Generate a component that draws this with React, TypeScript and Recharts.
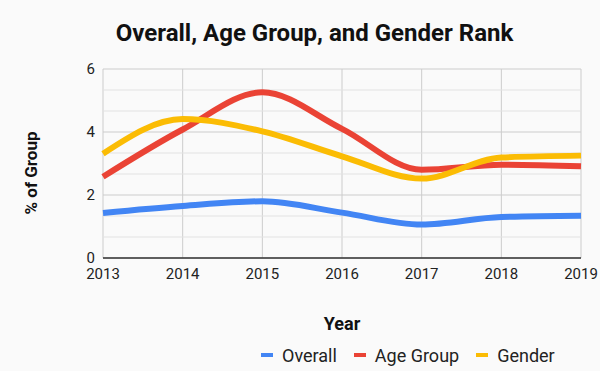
import React from 'react';
import { LineChart, Line, XAxis, YAxis, CartesianGrid, ReferenceLine } from 'recharts';

const years = [2013, 2014, 2015, 2016, 2017, 2018, 2019];
const overall = [1.43, 1.65, 1.8, 1.44, 1.06, 1.3, 1.34];
const ageGroup = [2.58, 4.08, 5.26, 4.1, 2.8, 2.96, 2.91];
const gender = [3.31, 4.41, 4.02, 3.23, 2.52, 3.19, 3.25];
const yTicks = [0, 2, 4, 6];
const minorLines = [2 / 3, 4 / 3, 8 / 3, 10 / 3, 14 / 3, 16 / 3];

const series = [
  { key: 'overall', name: 'Overall', color: '#4285f4' },
  { key: 'ageGroup', name: 'Age Group', color: '#ea4335' },
  { key: 'gender', name: 'Gender', color: '#fbbc04' },
];

const data = years.map((year, i) => ({
  year,
  overall: overall[i],
  ageGroup: ageGroup[i],
  gender: gender[i],
}));

const font = 'Roboto, sans-serif';

// rotated y axis title, sits at the far left like the original
const YTitle = () => (
  <text
    x={31}
    y={173}
    transform="rotate(-90 31 173)"
    textAnchor="middle"
    dominantBaseline="central"
    fill="#111"
    fontSize={17}
    fontWeight="bold"
    fontFamily={font}
  >
    % of Group
  </text>
);

const App: React.FC = () => {
  return (
    <div
      style={{
        position: 'absolute',
        top: 0,
        left: 0,
        width: 600,
        height: 371,
        background: '#fafafa',
        fontFamily: font,
      }}
    >
      <div
        style={{
          position: 'absolute',
          top: 19,
          left: 0,
          width: 629,
          textAlign: 'center',
          fontSize: 24,
          lineHeight: '28px',
          fontWeight: 'bold',
          color: '#111',
        }}
      >
        Overall, Age Group, and Gender Rank
      </div>
      <LineChart
        width={600}
        height={371}
        data={data}
        margin={{ top: 69, right: 19, left: 60, bottom: 38 }}
      >
        <CartesianGrid stroke="#cccccc" horizontal={true} vertical={true} />
        {minorLines.map((v) => (
          <ReferenceLine key={v} y={v} stroke="#e2e2e2" />
        ))}
        <XAxis
          dataKey="year"
          axisLine={{ stroke: '#333', strokeWidth: 1.5 }}
          tickLine={false}
          tickMargin={4}
          height={75}
          tick={{ fill: '#222', fontSize: 15, fontFamily: font }}
          label={{
            value: 'Year',
            position: 'insideBottom',
            offset: 3,
            style: { fill: '#111', fontSize: 18, fontWeight: 'bold', fontFamily: font },
          }}
        />
        <YAxis
          domain={[0, 6]}
          ticks={yTicks}
          width={43}
          axisLine={false}
          tickLine={false}
          tick={{ fill: '#222', fontSize: 15, fontFamily: font }}
          label={{ content: YTitle }}
        />
        {series.map((s) => (
          <Line
            key={s.key}
            type="monotone"
            dataKey={s.key}
            name={s.name}
            stroke={s.color}
            strokeWidth={6}
            dot={false}
            activeDot={false}
            isAnimationActive={false}
          />
        ))}
      </LineChart>
      <div
        style={{
          position: 'absolute',
          top: 344,
          left: 261,
          height: 22,
          display: 'flex',
          alignItems: 'center',
          fontSize: 18,
          color: '#222',
        }}
      >
        {series.map((s) => (
          <div key={s.key} style={{ display: 'flex', alignItems: 'center', marginRight: 17 }}>
            <div style={{ width: 12, height: 4, background: s.color, marginRight: 9 }} />
            <span>{s.name}</span>
          </div>
        ))}
      </div>
    </div>
  );
};

export default App;
